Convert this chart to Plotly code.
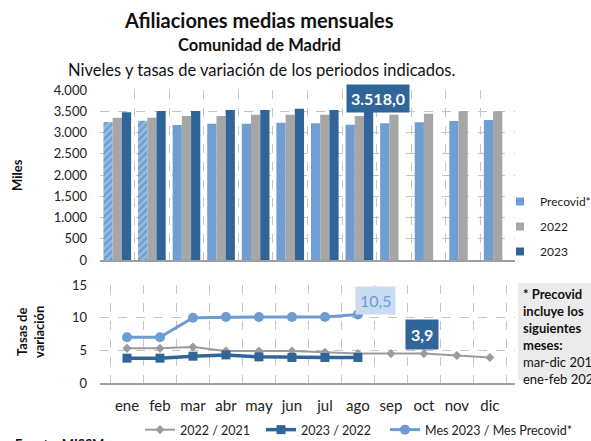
import plotly.graph_objects as go

# Months shown on both panels
months = ["ene", "feb", "mar", "abr", "may", "jun", "jul", "ago", "sep", "oct", "nov", "dic"]

# Average monthly affiliations (thousands)
precovid = [3250, 3278, 3176, 3208, 3208, 3231, 3216, 3184, 3216, 3239, 3271, 3294]
afil_2022 = [3349, 3349, 3388, 3388, 3420, 3420, 3420, 3386, 3420, 3443, 3498, 3498]
afil_2023 = [3475, 3506, 3506, 3529, 3529, 3561, 3529, 3518.0]

# Year-on-year rates (%)
tasa_22_21 = [5.3, 5.3, 5.5, 4.9, 4.9, 4.9, 4.7, 4.5, 4.5, 4.5, 4.2, 3.9]
tasa_23_22 = [3.8, 3.8, 4.1, 4.3, 4.0, 3.9, 3.9, 3.9]
tasa_23_pre = [7.0, 7.0, 10.0, 10.1, 10.1, 10.1, 10.1, 10.5]

# Precovid months taken from 2020 (ene-feb) are hatched
precovid_hatch = ["/", "/", "", "", "", "", "", "", "", "", "", ""]

C_PRE = "#6f9fd2"
C_22 = "#a6a6a6"
C_23 = "#30659a"
FONT = "Lato"

W, H = 591, 441
ML, MR, MT, MB = 100, 76, 90, 58
PW, PH = W - ML - MR, H - MT - MB


def px(x):
    return (x - ML) / PW


def py(y):
    return (H - MB - y) / PH


def es(v, nd=1):
    s = f"{v:,.{nd}f}"
    return s.replace(",", "X").replace(".", ",").replace("X", ".")


fig = go.Figure()

fig.add_trace(go.Bar(
    x=months, y=precovid, name="Precovid*", marker_color=C_PRE,
    marker_pattern=dict(shape=precovid_hatch, fgcolor="#c9ddf2", bgcolor=C_PRE,
                        size=5, solidity=0.45, fillmode="overlay"),
    marker_line_width=0, showlegend=False, xaxis="x", yaxis="y"))
fig.add_trace(go.Bar(x=months, y=afil_2022, name="2022", marker_color=C_22,
                     marker_line_width=0, showlegend=False, xaxis="x", yaxis="y"))
fig.add_trace(go.Bar(x=months[:len(afil_2023)], y=afil_2023, name="2023", marker_color=C_23,
                     marker_line_width=0, showlegend=False, xaxis="x", yaxis="y"))

# Legend entries for the bar series
for nm, col in [("Precovid*", C_PRE), ("2022", C_22), ("2023", C_23)]:
    fig.add_trace(go.Scatter(x=[None], y=[None], mode="markers", name=nm,
                             marker=dict(symbol="square", size=8, color=col),
                             legend="legend", legendgroup=nm, xaxis="x", yaxis="y"))

# Rate lines
fig.add_trace(go.Scatter(x=months, y=tasa_22_21, name="2022 / 2021", mode="lines+markers",
                         line=dict(color="#9b9b9b", width=2),
                         marker=dict(symbol="diamond", size=7, color="#9b9b9b"),
                         legend="legend2", xaxis="x2", yaxis="y2"))
fig.add_trace(go.Scatter(x=months[:len(tasa_23_22)], y=tasa_23_22, name="2023 / 2022",
                         mode="lines+markers", line=dict(color=C_23, width=3.5),
                         marker=dict(symbol="square", size=9, color=C_23),
                         legend="legend2", xaxis="x2", yaxis="y2"))
fig.add_trace(go.Scatter(x=months[:len(tasa_23_pre)], y=tasa_23_pre, name="Mes 2023 / Mes Precovid*",
                         mode="lines+markers", line=dict(color="#6c9cd0", width=3),
                         marker=dict(symbol="circle", size=10, color="#6c9cd0"),
                         legend="legend3", xaxis="x2", yaxis="y2"))

grid = dict(showgrid=True, gridcolor="#c4c4c4", griddash="dash", gridwidth=1)
tickfont = dict(family=FONT, size=13, color="#222")
lfont = dict(family=FONT, size=12.5, color="#222")

fig.update_layout(
    width=W, height=H, margin=dict(l=ML, r=MR, t=MT, b=MB, autoexpand=False),
    paper_bgcolor="white", plot_bgcolor="white",
    separators=",.", barmode="group", bargap=0.2, bargroupgap=0,
    font=dict(family=FONT, color="#222"),
    xaxis=dict(domain=[0, 1], anchor="y", type="category", categoryarray=months,
               tickson="boundaries", showticklabels=False, ticks="",
               showline=True, linecolor="#a0a0a0", linewidth=1.5, automargin=False, **grid),
    yaxis=dict(domain=[py(260), py(90)], anchor="x", range=[0, 4000], dtick=500,
               tickformat=",.0f", tickfont=tickfont, ticklabelstandoff=12,
               zeroline=False, automargin=False, **grid),
    xaxis2=dict(domain=[0, 1], anchor="y2", type="category", categoryarray=months,
                tickson="boundaries", ticks="", tickangle=0,
                tickfont=dict(family=FONT, size=15, color="#222"),
                ticklabelstandoff=8, automargin=False,
                showline=True, linecolor="#a0a0a0", linewidth=1.5, **grid),
    yaxis2=dict(domain=[0, py(285)], anchor="x2", range=[0, 15], dtick=5,
                tickfont=tickfont, ticklabelstandoff=12, zeroline=False,
                automargin=False, **grid),
    legend=dict(x=px(500), y=py(187), xanchor="left", yanchor="top",
                font=dict(family=FONT, size=12, color="#222"),
                tracegroupgap=6, itemwidth=30, bgcolor="rgba(0,0,0,0)"),
    legend2=dict(orientation="h", x=px(140), y=py(415), xanchor="left", yanchor="top",
                 font=lfont, itemwidth=30, entrywidth=76, entrywidthmode="pixels",
                 bgcolor="rgba(0,0,0,0)"),
    legend3=dict(orientation="h", x=px(385), y=py(415), xanchor="left", yanchor="top",
                 font=lfont, itemwidth=30, bgcolor="rgba(0,0,0,0)"),
)

# Note box with the definition of the precovid period
fig.add_shape(type="rect", xref="paper", yref="paper",
              x0=px(518), x1=px(600), y0=py(380), y1=py(283),
              fillcolor="#ebebeb", line_width=0, layer="below")

ann = [
    dict(text="<b>Afiliaciones medias mensuales</b>", x=px(259), y=py(20),
         font=dict(size=20)),
    dict(text="<b>Comunidad de Madrid</b>", x=px(259), y=py(45), font=dict(size=16.5)),
    dict(text="Niveles y tasas de variación de los periodos indicados.", x=px(261), y=py(70),
         font=dict(size=16.5)),
    dict(text="<b>Miles</b>", x=px(17), y=py(175), textangle=-90, font=dict(size=13)),
    dict(text="<b>Tasas de<br>variación</b>", x=px(30), y=py(332), textangle=-90,
         font=dict(size=13)),
    dict(text="<b>* Precovid<br>incluye los<br>siguientes<br>meses:</b><br>mar-dic 2019<br>ene-feb 2020",
         x=px(521), y=py(284), xanchor="left", yanchor="top", align="left",
         font=dict(size=13)),
    dict(text="<b>Fuente: MISSM</b>", x=px(13), y=py(444), xanchor="left", font=dict(size=13)),
]
for a in ann:
    a.setdefault("xanchor", "center")
    a.setdefault("yanchor", "middle")
    a["font"] = dict(family=FONT, color="#111", **a["font"])
    fig.add_annotation(xref="paper", yref="paper", showarrow=False, **a)

# Value labels tied to the data
i_last = len(afil_2023) - 1
fig.add_annotation(x=months[i_last], y=afil_2023[i_last], xref="x", yref="y",
                   text=f"<b>{es(afil_2023[i_last])}</b>", showarrow=False,
                   xshift=19, yshift=12, bgcolor=C_23, borderpad=4,
                   font=dict(family=FONT, size=16, color="white"))
i_pre = len(tasa_23_pre) - 1
fig.add_annotation(x=months[i_pre], y=tasa_23_pre[i_pre], xref="x2", yref="y2",
                   text=es(tasa_23_pre[i_pre]), showarrow=False,
                   xshift=18, yshift=14, bgcolor="#c9dcf0", borderpad=4,
                   font=dict(family=FONT, size=16, color="#6c9cd0"))
i_22 = len(tasa_23_22) - 1
fig.add_annotation(x=months[i_22], y=tasa_23_22[i_22], xref="x2", yref="y2",
                   text=f"<b>{es(tasa_23_22[i_22])}</b>", showarrow=False,
                   xshift=64, yshift=23, bgcolor=C_23, borderpad=5,
                   font=dict(family=FONT, size=16, color="white"))

fig.write_html("out.html")
